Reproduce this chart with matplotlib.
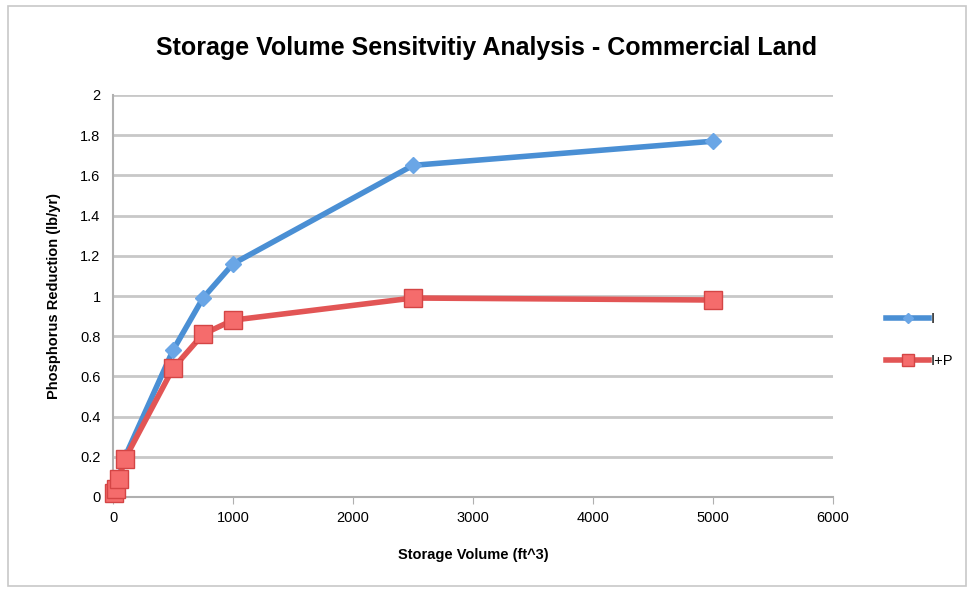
import matplotlib
matplotlib.use("Agg")
import matplotlib.pyplot as plt
from matplotlib.patches import Rectangle

# storage volume (ft^3)
volume = [10, 25, 50, 100, 500, 750, 1000, 2500, 5000]
# phosphorus reduction (lb/yr)
reduction_i = [0.02, 0.05, 0.10, 0.20, 0.73, 0.99, 1.16, 1.65, 1.77]
reduction_ip = [0.02, 0.04, 0.09, 0.19, 0.64, 0.81, 0.88, 0.99, 0.98]

xticks = [0, 1000, 2000, 3000, 4000, 5000, 6000]
yticks = [0, 0.2, 0.4, 0.6, 0.8, 1, 1.2, 1.4, 1.6, 1.8, 2]
ytick_labels = ["0", "0.2", "0.4", "0.6", "0.8", "1", "1.2", "1.4", "1.6", "1.8", "2"]

plt.rcParams["font.family"] = ["Liberation Sans", "DejaVu Sans"]

fig = plt.figure(figsize=(9.74, 5.92), dpi=100)
ax = fig.add_axes([113/974, 1-497/592, 720/974, 402/592])

fig.patches.append(Rectangle((8/974, 6/592), 958/974, 580/592, transform=fig.transFigure,
                             fill=False, edgecolor="#c8c8c8", linewidth=1.2))

blue = "#4a8fd4"
red = "#e25555"
ax.plot(volume, reduction_i, color=blue, lw=4, marker="D", ms=8,
        mfc="#6aa6e6", mec="#6aa6e6", label="I", zorder=3, clip_on=False)
ax.plot(volume, reduction_ip, color=red, lw=4, marker="s", ms=13,
        mfc="#f56c6c", mec="#d44545", mew=1, label="I+P", zorder=4, clip_on=False)

ax.set_xlim(0, 6000)
ax.set_ylim(0, 2)
ax.set_xticks(xticks)
ax.set_yticks(yticks)
ax.set_yticklabels(ytick_labels)
ax.tick_params(axis="x", length=5, color="#b0b0b0", labelsize=10.5, pad=5)
ax.tick_params(axis="y", length=0, labelsize=10.5, pad=9)
ax.yaxis.grid(True, color="#c8c8c8", lw=2)
ax.set_axisbelow(True)
for s in ["top", "right"]:
    ax.spines[s].set_visible(False)
for s in ["left", "bottom"]:
    ax.spines[s].set_color("#b0b0b0")
    ax.spines[s].set_linewidth(1.5)

ax.set_xlabel("Storage Volume (ft^3)", fontsize=10.5, weight="bold", labelpad=17)
ax.set_ylabel("Phosphorus Reduction (lb/yr)", fontsize=10.5, weight="bold", labelpad=14)
fig.text(0.5, 1-48/592, "Storage Volume Sensitvitiy Analysis - Commercial Land",
         ha="center", va="center", fontsize=18, weight="bold")

ax.legend(loc="center left", bbox_to_anchor=(1.055, 0.39), frameon=False,
          handlelength=3, labelspacing=1.9, fontsize=10.5, handletextpad=0.1,
          markerscale=0.7)

fig.savefig("out.png", dpi=100)
